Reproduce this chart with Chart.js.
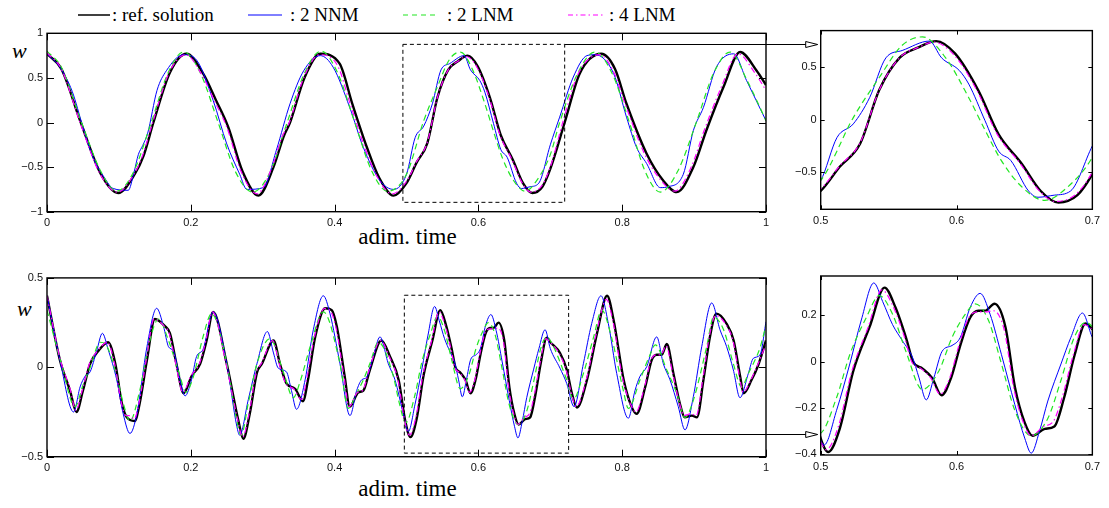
<!DOCTYPE html>
<html>
<head>
<meta charset="utf-8">
<script src="https://cdn.jsdelivr.net/npm/chart.js@4.4.1/dist/chart.umd.min.js"></script>
<style>
html, body { margin: 0; padding: 0; background: #fff; }
#page { position: relative; width: 1109px; height: 508px; overflow: hidden; color: #000; }
.serif { font-family: "Liberation Serif", "DejaVu Serif", "Times New Roman", Times, serif; }
canvas.plot { position: absolute; }
.lg { position: absolute; top: 5px; font-size: 19px; line-height: 19px; white-space: nowrap; }
.xt { position: absolute; left: 300px; width: 215px; text-align: center; font-size: 23px; line-height: 23px; }
.w { position: absolute; font-style: italic; font-size: 22px; line-height: 22px; }
#over { position: absolute; left: 0; top: 0; pointer-events: none; }
</style>
</head>
<body>
<div id="page">
  <svg width="1109" height="30" style="position:absolute;left:0;top:0">
    <line x1="78" y1="15" x2="110" y2="15" stroke="#000" stroke-width="1.5"/>
    <line x1="248" y1="15" x2="282" y2="15" stroke="#0000ff" stroke-width="1"/>
    <line x1="403" y1="15" x2="437" y2="15" stroke="#22e622" stroke-width="1.2" stroke-dasharray="5 4"/>
    <line x1="568" y1="15" x2="603" y2="15" stroke="#ff00ff" stroke-width="1.2" stroke-dasharray="5 3 1.5 3"/>
  </svg>
  <span class="lg serif" style="left:112px">: ref. solution</span>
  <span class="lg serif" style="left:290px">: 2 NNM</span>
  <span class="lg serif" style="left:447px">: 2 LNM</span>
  <span class="lg serif" style="left:609px">: 4 LNM</span>

  <span class="w serif" style="left:12px;top:40px">w</span>
  <span class="w serif" style="left:17px;top:298px">w</span>
  <div class="xt serif" style="top:225px">adim. time</div>
  <div class="xt serif" style="top:477px">adim. time</div>

  <canvas class="plot" id="topMain"></canvas>
  <canvas class="plot" id="topZoom"></canvas>
  <canvas class="plot" id="botMain"></canvas>
  <canvas class="plot" id="botZoom"></canvas>
  <canvas id="over" width="1109" height="508"></canvas>
</div>

<script>
// ---- data: [adim. time, w] ----
var topRef = [[0,0.77],[0.02,0.60],[0.047,0.0],[0.075,-0.58],[0.099,-0.79],[0.122,-0.58],[0.134,-0.38],[0.148,0.0],[0.171,0.56],[0.194,0.77],
  [0.217,0.55],[0.235,0.25],[0.252,-0.05],[0.272,-0.55],[0.294,-0.82],[0.315,-0.50],[0.329,-0.16],[0.338,0.0],[0.358,0.50],[0.38,0.77],
  [0.407,0.66],[0.425,0.20],[0.445,-0.28],[0.462,-0.62],[0.482,-0.82],[0.5,-0.68],[0.514,-0.45],[0.529,-0.23],[0.543,0.28],[0.558,0.59],
  [0.572,0.69],[0.585,0.75],[0.599,0.63],[0.616,0.28],[0.631,-0.14],[0.648,-0.42],[0.662,-0.68],[0.675,-0.79],[0.689,-0.72],[0.7,-0.52],
  [0.72,0.0],[0.741,0.55],[0.771,0.77],[0.79,0.60],[0.806,0.21],[0.834,-0.35],[0.857,-0.65],[0.876,-0.78],[0.899,-0.50],[0.917,-0.09],
  [0.941,0.40],[0.964,0.79],[0.987,0.58],[1,0.42]];
var topNnm = [[0,0.77],[0.018,0.62],[0.035,0.35],[0.05,-0.05],[0.064,-0.39],[0.08,-0.62],[0.092,-0.74],[0.113,-0.76],[0.121,-0.56],[0.127,-0.36],
  [0.133,-0.26],[0.14,-0.12],[0.153,0.36],[0.166,0.58],[0.19,0.76],[0.208,0.70],[0.231,0.25],[0.25,-0.24],[0.268,-0.58],[0.278,-0.75],
  [0.301,-0.73],[0.319,-0.31],[0.338,0.21],[0.357,0.58],[0.38,0.75],[0.398,0.62],[0.421,0.17],[0.44,-0.28],[0.463,-0.65],[0.482,-0.75],
  [0.5,-0.58],[0.512,-0.17],[0.524,-0.04],[0.536,0.21],[0.548,0.59],[0.56,0.66],[0.58,0.75],[0.589,0.59],[0.602,0.47],[0.609,0.34],
  [0.621,-0.01],[0.631,-0.30],[0.64,-0.39],[0.653,-0.68],[0.66,-0.74],[0.672,-0.72],[0.684,-0.68],[0.7,-0.25],[0.713,0.06],[0.732,0.51],
  [0.751,0.75],[0.762,0.76],[0.788,0.55],[0.806,0.06],[0.82,-0.28],[0.834,-0.46],[0.853,-0.73],[0.864,-0.72],[0.885,-0.58],[0.899,-0.09],
  [0.913,0.17],[0.931,0.62],[0.955,0.77],[0.973,0.47],[1,0.02]];
var topLnm2 = [[0,0.80],[0.02,0.62],[0.048,0.0],[0.075,-0.55],[0.097,-0.77],[0.12,-0.56],[0.145,0.0],[0.168,0.55],[0.19,0.79],[0.213,0.56],
  [0.238,0.0],[0.262,-0.55],[0.286,-0.78],[0.31,-0.56],[0.334,0.0],[0.358,0.55],[0.381,0.80],[0.404,0.56],[0.428,0.0],[0.452,-0.55],
  [0.474,-0.77],[0.5,-0.58],[0.524,0.02],[0.543,0.40],[0.56,0.71],[0.575,0.79],[0.592,0.59],[0.609,0.21],[0.621,-0.10],[0.633,-0.39],
  [0.648,-0.64],[0.665,-0.77],[0.682,-0.64],[0.7,-0.36],[0.713,0.0],[0.738,0.55],[0.762,0.79],[0.786,0.55],[0.81,0.0],[0.832,-0.55],
  [0.853,-0.78],[0.877,-0.55],[0.903,0.0],[0.927,0.55],[0.95,0.79],[0.975,0.45],[1,0.02]];
var topLnm4 = [[0,0.78],[0.02,0.60],[0.046,0.0],[0.074,-0.58],[0.098,-0.78],[0.121,-0.58],[0.133,-0.37],[0.147,0.0],[0.17,0.56],[0.193,0.76],
  [0.215,0.54],[0.233,0.24],[0.25,-0.05],[0.27,-0.55],[0.292,-0.80],[0.313,-0.50],[0.327,-0.16],[0.337,0.0],[0.357,0.50],[0.379,0.76],
  [0.404,0.64],[0.422,0.20],[0.442,-0.28],[0.46,-0.62],[0.48,-0.80],[0.5,-0.66],[0.514,-0.44],[0.529,-0.22],[0.543,0.28],[0.558,0.59],
  [0.572,0.69],[0.583,0.74],[0.598,0.62],[0.615,0.28],[0.63,-0.14],[0.647,-0.42],[0.661,-0.68],[0.673,-0.78],[0.688,-0.71],[0.7,-0.50],
  [0.718,0.02],[0.739,0.55],[0.769,0.76],[0.788,0.57],[0.804,0.21],[0.831,-0.35],[0.854,-0.65],[0.873,-0.77],[0.896,-0.50],[0.914,-0.09],
  [0.938,0.40],[0.961,0.77],[0.985,0.55],[1,0.36]];

var botRef = [[0,0.40],[0.018,0.04],[0.032,-0.13],[0.041,-0.25],[0.05,-0.13],[0.06,0.02],[0.071,0.09],[0.085,0.14],[0.095,0.02],[0.104,-0.20],
  [0.111,-0.28],[0.122,-0.30],[0.129,-0.20],[0.139,0.04],[0.15,0.27],[0.164,0.23],[0.171,0.19],[0.18,0.02],[0.19,-0.145],[0.201,-0.05],
  [0.213,0.02],[0.222,0.15],[0.231,0.31],[0.25,0.02],[0.266,-0.295],[0.273,-0.40],[0.282,-0.26],[0.292,-0.03],[0.299,0.02],[0.315,0.15],
  [0.324,0.02],[0.333,-0.09],[0.345,-0.12],[0.356,-0.19],[0.363,-0.07],[0.373,0.17],[0.387,0.33],[0.396,0.32],[0.403,0.23],[0.414,-0.05],
  [0.421,-0.22],[0.433,-0.14],[0.44,-0.13],[0.449,-0.015],[0.465,0.15],[0.477,0.06],[0.489,-0.07],[0.498,-0.295],[0.5055,-0.39],[0.514,-0.29],
  [0.524,-0.04],[0.536,0.15],[0.547,0.32],[0.555,0.235],[0.563,0.10],[0.568,0.0],[0.575,-0.03],[0.582,-0.07],[0.589,-0.145],[0.596,-0.07],
  [0.603,0.075],[0.61,0.19],[0.616,0.22],[0.621,0.22],[0.628,0.25],[0.636,0.15],[0.643,-0.11],[0.65,-0.26],[0.656,-0.32],[0.665,-0.29],
  [0.672,-0.28],[0.679,-0.16],[0.687,0.03],[0.695,0.165],[0.7,0.14],[0.7135,0.08],[0.723,-0.015],[0.73,-0.145],[0.737,-0.225],[0.751,-0.07],
  [0.765,0.19],[0.779,0.40],[0.788,0.265],[0.802,-0.07],[0.813,-0.22],[0.82,-0.26],[0.832,-0.11],[0.841,0.04],[0.848,0.07],[0.855,0.07],
  [0.862,0.13],[0.871,-0.03],[0.88,-0.20],[0.887,-0.28],[0.897,-0.27],[0.904,-0.28],[0.913,-0.07],[0.922,0.17],[0.931,0.30],[0.945,0.245],
  [0.955,0.15],[0.964,-0.05],[0.969,-0.145],[0.98,-0.07],[0.989,0.01],[1,0.15]];
var botNnm = [[0,0.40],[0.018,0.04],[0.037,-0.25],[0.046,-0.11],[0.053,-0.05],[0.06,-0.025],[0.069,0.09],[0.077,0.19],[0.085,0.10],[0.097,-0.07],
  [0.106,-0.26],[0.1154,-0.37],[0.125,-0.26],[0.139,0.115],[0.1525,0.33],[0.162,0.23],[0.169,0.115],[0.176,0.09],[0.185,-0.07],[0.192,-0.16],
  [0.201,-0.07],[0.208,0.06],[0.217,0.10],[0.231,0.31],[0.25,0.02],[0.264,-0.33],[0.268,-0.38],[0.28,-0.18],[0.292,0.02],[0.3065,0.20],
  [0.315,0.08],[0.3217,-0.005],[0.333,-0.025],[0.34,-0.13],[0.347,-0.235],[0.359,-0.07],[0.3704,0.21],[0.3843,0.40],[0.3936,0.30],[0.4075,0.02],
  [0.4214,-0.27],[0.4307,-0.13],[0.4377,-0.07],[0.4447,-0.055],[0.4538,0.06],[0.4631,0.17],[0.4747,0.02],[0.484,-0.07],[0.4956,-0.26],[0.5025,-0.36],
  [0.5117,-0.21],[0.5214,-0.01],[0.5299,0.18],[0.5391,0.34],[0.5456,0.26],[0.5529,0.16],[0.5602,0.09],[0.5675,0.02],[0.5724,-0.07],[0.5777,-0.165],
  [0.5833,-0.07],[0.5894,0.045],[0.5967,0.07],[0.6028,0.105],[0.6101,0.235],[0.6174,0.295],[0.6247,0.205],[0.6331,0.03],[0.6429,-0.185],[0.6502,-0.33],
  [0.655,-0.395],[0.6611,-0.30],[0.6672,-0.17],[0.6769,-0.01],[0.6842,0.105],[0.6927,0.21],[0.7,0.105],[0.7135,-0.005],[0.7228,-0.09],[0.733,-0.22],
  [0.746,0.02],[0.7576,0.245],[0.7705,0.40],[0.7807,0.245],[0.7924,-0.035],[0.8085,-0.285],[0.8178,-0.13],[0.8248,-0.05],[0.8341,0.003],[0.848,0.17],
  [0.8572,0.02],[0.8665,-0.07],[0.878,-0.22],[0.8873,-0.35],[0.8989,-0.165],[0.9106,0.115],[0.9245,0.36],[0.936,0.21],[0.9453,0.115],[0.9546,-0.015],
  [0.9638,-0.17],[0.9754,-0.035],[0.9823,0.05],[0.9917,0.07],[1,0.255]];
var botLnm2 = [[0,0.32],[0.02,0.02],[0.039,-0.22],[0.05,-0.10],[0.06,0.0],[0.074,0.14],[0.083,0.12],[0.097,-0.05],[0.106,-0.20],[0.1154,-0.30],
  [0.129,-0.13],[0.143,0.15],[0.155,0.27],[0.169,0.15],[0.185,-0.05],[0.193,-0.14],[0.203,-0.06],[0.217,0.17],[0.229,0.30],[0.25,0.02],
  [0.264,-0.30],[0.27,-0.38],[0.28,-0.20],[0.292,0.02],[0.31,0.16],[0.329,-0.03],[0.3426,-0.17],[0.352,-0.08],[0.366,0.115],[0.3843,0.31],
  [0.4075,0.02],[0.419,-0.23],[0.43,-0.15],[0.44,-0.07],[0.449,0.02],[0.461,0.14],[0.4817,-0.05],[0.49,-0.20],[0.499,-0.31],[0.5117,-0.155],
  [0.5214,0.03],[0.5335,0.19],[0.5432,0.285],[0.5529,0.205],[0.5627,0.045],[0.5748,-0.12],[0.587,-0.04],[0.5967,0.105],[0.6065,0.205],[0.6138,0.25],
  [0.6234,0.18],[0.6331,-0.01],[0.6429,-0.21],[0.655,-0.32],[0.6672,-0.245],[0.6769,-0.08],[0.6867,0.105],[0.6951,0.17],[0.7,0.15],[0.7228,-0.07],
  [0.732,-0.18],[0.746,-0.035],[0.7603,0.17],[0.7715,0.32],[0.785,0.17],[0.8016,-0.13],[0.8085,-0.23],[0.8248,-0.07],[0.8387,0.07],[0.846,0.125],
  [0.862,-0.015],[0.8758,-0.145],[0.8873,-0.28],[0.8989,-0.185],[0.9175,0.115],[0.927,0.28],[0.941,0.21],[0.9546,0.02],[0.966,-0.11],[0.9754,-0.035],
  [0.9917,0.11],[1,0.235]];
var botLnm4 = [[0,0.40],[0.018,0.05],[0.032,-0.12],[0.04,-0.24],[0.049,-0.13],[0.059,0.02],[0.07,0.09],[0.084,0.14],[0.094,0.02],[0.103,-0.19],
  [0.11,-0.27],[0.115,-0.27],[0.121,-0.29],[0.128,-0.20],[0.138,0.04],[0.149,0.27],[0.163,0.23],[0.17,0.19],[0.179,0.02],[0.189,-0.14],
  [0.2,-0.05],[0.212,0.02],[0.221,0.15],[0.23,0.31],[0.249,0.02],[0.265,-0.29],[0.272,-0.39],[0.281,-0.26],[0.291,-0.03],[0.298,0.02],
  [0.314,0.15],[0.323,0.02],[0.332,-0.09],[0.343,-0.12],[0.354,-0.18],[0.361,-0.07],[0.372,0.17],[0.386,0.33],[0.395,0.31],[0.402,0.22],
  [0.413,-0.05],[0.42,-0.22],[0.432,-0.14],[0.439,-0.13],[0.448,-0.015],[0.464,0.15],[0.476,0.06],[0.488,-0.07],[0.497,-0.29],[0.504,-0.38],
  [0.513,-0.28],[0.523,-0.04],[0.535,0.15],[0.545,0.31],[0.554,0.23],[0.562,0.10],[0.567,0.0],[0.574,-0.03],[0.581,-0.07],[0.588,-0.14],
  [0.595,-0.07],[0.602,0.075],[0.609,0.19],[0.616,0.215],[0.622,0.215],[0.627,0.22],[0.635,0.14],[0.642,-0.11],[0.649,-0.26],[0.655,-0.32],
  [0.664,-0.28],[0.671,-0.26],[0.678,-0.15],[0.686,0.03],[0.694,0.16],[0.7,0.14],[0.712,0.08],[0.722,-0.015],[0.729,-0.14],[0.736,-0.22],
  [0.75,-0.07],[0.764,0.19],[0.778,0.38],[0.787,0.26],[0.801,-0.07],[0.812,-0.21],[0.819,-0.25],[0.831,-0.11],[0.84,0.04],[0.847,0.07],
  [0.854,0.07],[0.861,0.12],[0.87,-0.03],[0.879,-0.19],[0.886,-0.27],[0.896,-0.26],[0.903,-0.27],[0.912,-0.07],[0.921,0.17],[0.93,0.29],
  [0.944,0.24],[0.954,0.15],[0.963,-0.05],[0.968,-0.14],[0.979,-0.07],[0.988,0.01],[1,0.13]];

// tick labels
var mainXTicks = [0, 0.2, 0.4, 0.6, 0.8, 1];
var zoomXTicks = [0.5, 0.6, 0.7];
var topMainYTicks = [-1, -0.5, 0, 0.5, 1];
var botMainYTicks = [-0.5, 0, 0.5];
var topZoomYTicks = [-0.5, 0, 0.5];
var botZoomYTicks = [-0.4, -0.2, 0, 0.2];

// zoom windows marked on the main plots (data units)
var topBox = { t0: 0.495, t1: 0.72, w0: -0.895, w1: 0.876, arrowW: 0.876 };
var botBox = { t0: 0.497, t1: 0.7255, w0: -0.48, w1: 0.403, arrowW: -0.375 };

// ---- drawing ----
var tickFont = { family: "'Liberation Sans', Arial, sans-serif", size: 11 };

function fmt(v) {
    return (v < 0 ? '\u2212' : '') + Math.abs(v);
}

function pts(arr) {
    return arr.map(function (p) { return { x: p[0], y: p[1] }; });
}

var frameTicks = {
    id: 'frameTicks',
    afterDatasetsDraw: function (chart, args, opts) {
        var ctx = chart.ctx, a = chart.chartArea;
        var xs = chart.scales.x, ys = chart.scales.y;
        ctx.save();
        ctx.strokeStyle = '#000';
        ctx.lineWidth = 1;
        ctx.beginPath();
        xs.ticks.forEach(function (t) {
            var p = Math.round(xs.getPixelForValue(t.value)) + 0.5;
            ctx.moveTo(p, a.bottom); ctx.lineTo(p, a.bottom - opts.len);
            ctx.moveTo(p, a.top); ctx.lineTo(p, a.top + opts.len);
        });
        ys.ticks.forEach(function (t) {
            var p = Math.round(ys.getPixelForValue(t.value)) + 0.5;
            ctx.moveTo(a.left, p); ctx.lineTo(a.left + opts.len, p);
            ctx.moveTo(a.right, p); ctx.lineTo(a.right - opts.len, p);
        });
        ctx.stroke();
        ctx.lineWidth = 1.4;
        ctx.strokeRect(a.left, a.top, a.right - a.left, a.bottom - a.top);
        ctx.restore();
    }
};
Chart.register(frameTicks);

function makePlot(id, box, xr, yr, xTicks, yTicks, tickLen, ref, nnm, lnm2, lnm4) {
    var canvas = document.getElementById(id);
    canvas.width = box.width;
    canvas.height = box.height;
    canvas.style.left = box.left + 'px';
    canvas.style.top = box.top + 'px';
    var common = { pointRadius: 0, fill: false, cubicInterpolationMode: 'monotone', clip: 0 };
    return new Chart(canvas, {
        type: 'line',
        data: {
            datasets: [
                Object.assign({ label: '4 LNM', data: pts(lnm4), borderColor: '#ff00ff', borderWidth: 1.2, borderDash: [6, 3, 1.5, 3] }, common),
                Object.assign({ label: '2 LNM', data: pts(lnm2), borderColor: '#22e622', borderWidth: 1.2, borderDash: [6, 4] }, common),
                Object.assign({ label: '2 NNM', data: pts(nnm), borderColor: '#0000ff', borderWidth: 1 }, common),
                Object.assign({ label: 'ref. solution', data: pts(ref), borderColor: '#000', borderWidth: 2.4 }, common)
            ]
        },
        options: {
            responsive: false,
            animation: false,
            devicePixelRatio: 1,
            layout: { padding: { top: box.padTop, right: box.padRight, left: 0, bottom: 0 } },
            plugins: { legend: { display: false }, tooltip: { enabled: false }, frameTicks: { len: tickLen } },
            scales: {
                x: {
                    type: 'linear', min: xr[0], max: xr[1],
                    afterBuildTicks: function (s) { s.ticks = xTicks.map(function (v) { return { value: v }; }); },
                    afterFit: function (s) { s.height = box.xAxisH; },
                    grid: { display: false, drawTicks: false },
                    border: { display: false },
                    ticks: { padding: 5, maxRotation: 0, autoSkip: false, callback: fmt, font: tickFont, color: '#111' }
                },
                y: {
                    type: 'linear', min: yr[0], max: yr[1],
                    afterBuildTicks: function (s) { s.ticks = yTicks.map(function (v) { return { value: v }; }); },
                    afterFit: function (s) { s.width = box.yAxisW; },
                    grid: { display: false, drawTicks: false },
                    border: { display: false },
                    ticks: { padding: 4, autoSkip: false, callback: fmt, font: tickFont, color: '#111' }
                }
            }
        }
    });
}

var L = {
    topMain: { left: 0, top: 20, width: 775, height: 225, padTop: 13.3, padRight: 9, yAxisW: 47, xAxisH: 33.3 },
    botMain: { left: 0, top: 265, width: 775, height: 225, padTop: 12.9, padRight: 9, yAxisW: 47, xAxisH: 33.3 },
    topZoom: { left: 780, top: 20, width: 325, height: 225, padTop: 10, padRight: 10, yAxisW: 40.7, xAxisH: 35.7 },
    botZoom: { left: 780, top: 265, width: 325, height: 225, padTop: 11, padRight: 10, yAxisW: 40.7, xAxisH: 35 }
};

var c1 = makePlot('topMain', L.topMain, [0, 1], [-1, 1], mainXTicks, topMainYTicks, 7, topRef, topNnm, topLnm2, topLnm4);
var c2 = makePlot('topZoom', L.topZoom, [0.5, 0.7], [-0.855, 0.85], zoomXTicks, topZoomYTicks, 4, topRef, topNnm, topLnm2, topLnm4);
var c3 = makePlot('botMain', L.botMain, [0, 1], [-0.5, 0.5], mainXTicks, botMainYTicks, 7, botRef, botNnm, botLnm2, botLnm4);
var c4 = makePlot('botZoom', L.botZoom, [0.5, 0.7], [-0.403, 0.37], zoomXTicks, botZoomYTicks, 4, botRef, botNnm, botLnm2, botLnm4);

// dashed zoom windows and arrows to the zoomed plots
function drawLink(ctx, chart, box, zoomChart, zbox, win) {
    var xs = chart.scales.x, ys = chart.scales.y;
    var x0 = box.left + xs.getPixelForValue(win.t0), x1 = box.left + xs.getPixelForValue(win.t1);
    var y0 = box.top + ys.getPixelForValue(win.w1), y1 = box.top + ys.getPixelForValue(win.w0);
    ctx.save();
    ctx.strokeStyle = '#000';
    ctx.lineWidth = 1;
    ctx.setLineDash([4, 3]);
    ctx.strokeRect(x0, y0, x1 - x0, y1 - y0);
    ctx.setLineDash([]);
    var ya = Math.round(box.top + ys.getPixelForValue(win.arrowW)) + 0.5;
    var tip = zbox.left + zoomChart.chartArea.left - 3;
    ctx.beginPath();
    ctx.moveTo(x1, ya);
    ctx.lineTo(tip - 11, ya);
    ctx.stroke();
    ctx.beginPath();
    ctx.moveTo(tip, ya);
    ctx.lineTo(tip - 12, ya - 3);
    ctx.lineTo(tip - 12, ya + 3);
    ctx.closePath();
    ctx.fillStyle = '#fff';
    ctx.fill();
    ctx.stroke();
    ctx.restore();
}

var over = document.getElementById('over').getContext('2d');
drawLink(over, c1, L.topMain, c2, L.topZoom, topBox);
drawLink(over, c3, L.botMain, c4, L.botZoom, botBox);
</script>
</body>
</html>
